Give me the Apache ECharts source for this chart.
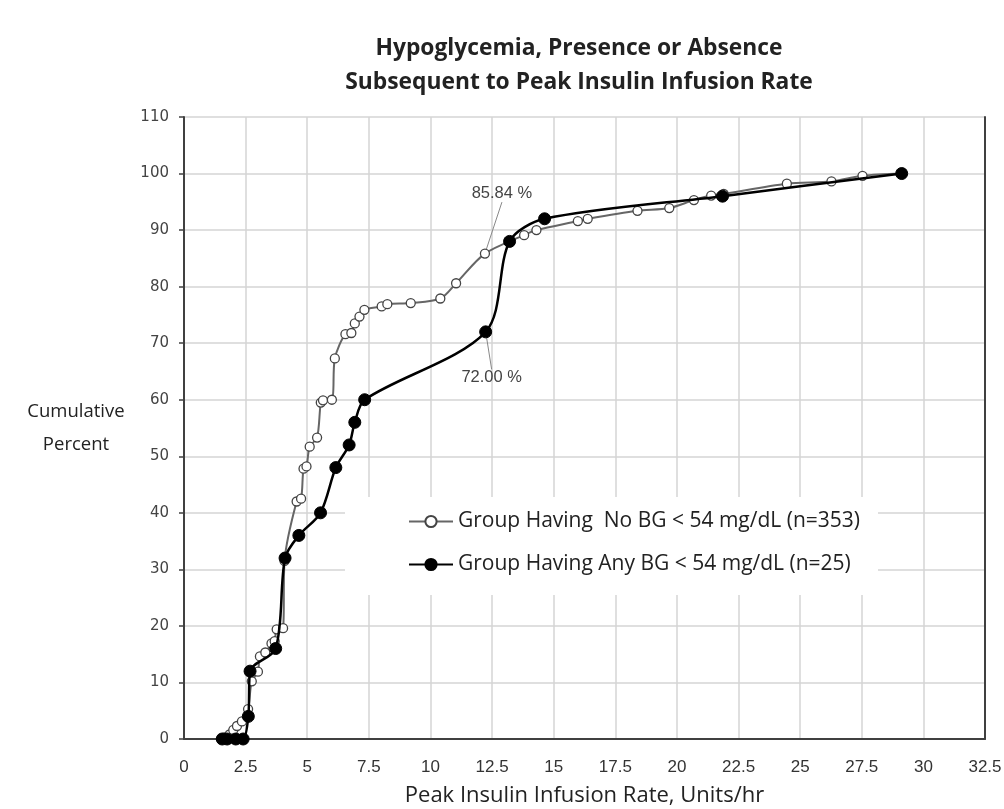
<!DOCTYPE html>
<html>
<head>
<meta charset="utf-8">
<script src="https://cdn.jsdelivr.net/npm/echarts@6/dist/echarts.min.js"></script>
<style>
html,body{margin:0;padding:0;background:#fff;}
#chart{width:1004px;height:809px;}
</style>
</head>
<body>
<div id="chart"></div>
<script>
// ---- data ----
const titleLines = ['Hypoglycemia, Presence or Absence', 'Subsequent to Peak Insulin Infusion Rate'];
const xAxisTitle = 'Peak Insulin Infusion Rate, Units/hr';
const yAxisTitle = 'Cumulative\nPercent';
const seriesNames = ['Group Having  No BG < 54 mg/dL (n=353)', 'Group Having Any BG < 54 mg/dL (n=25)'];

const noBgX = [1.65, 1.85, 2.0, 2.15, 2.35, 2.6, 2.75, 3.0, 3.08, 3.3, 3.55, 3.68, 3.76, 4.02, 4.08, 4.57, 4.75, 4.85, 4.97, 5.1, 5.4, 5.55, 5.64, 6.0, 6.12, 6.55, 6.79, 6.93, 7.12, 7.32, 8.02, 8.25, 9.2, 10.4, 11.04, 12.21, 13.8, 14.3, 15.98, 16.38, 18.4, 19.69, 20.69, 21.39, 21.9, 24.46, 26.27, 27.53, 29.12];
const noBgY = [0.3, 0.8, 1.6, 2.3, 3.1, 5.3, 10.2, 11.9, 14.6, 15.3, 16.9, 17.3, 19.4, 19.6, 31.5, 42.0, 42.5, 47.8, 48.2, 51.7, 53.3, 59.5, 59.9, 60.0, 67.3, 71.6, 71.8, 73.5, 74.7, 75.9, 76.5, 76.9, 77.1, 77.9, 80.6, 85.84, 89.1, 90.0, 91.6, 92.0, 93.4, 93.9, 95.3, 96.1, 96.4, 98.2, 98.6, 99.6, 100];

const anyBgX = [1.55, 1.75, 2.1, 2.4, 2.61, 2.68, 3.72, 4.1, 4.66, 5.54, 6.16, 6.7, 6.93, 7.33, 12.24, 13.21, 14.63, 21.85, 29.12];
const anyBgY = [0, 0, 0, 0, 4, 12, 16, 32, 36, 40, 48, 52, 56, 60, 72, 88, 92, 96, 100];

// annotated points (series index, data index)
const annotated = [[0, 35], [1, 14]];

const xTicks = {min: 0, max: 32.5, interval: 2.5};
const yTicks = {min: 0, max: 110, interval: 10};

// ---- build ----
function buildData(xs, ys, sIdx) {
  return xs.map((x, i) => {
    const item = {value: [x, ys[i]]};
    if (annotated.some(a => a[0] === sIdx && a[1] === i)) {
      item.label = {show: true, formatter: ys[i].toFixed(2) + ' %'};
    }
    return item;
  });
}

const chart = echarts.init(document.getElementById('chart'), null, {renderer: 'canvas'});
const axisDark = '#404040';
const gridGray = '#d4d4d4';
const labelFont = 'Liberation Sans, Arial, sans-serif';
const narrowFont = 'Liberation Sans Narrow, Liberation Sans, Arial, sans-serif';

chart.setOption({
  animation: false,
  backgroundColor: '#fff',
  title: {
    text: titleLines.join('\n'),
    left: 574, top: 27, textAlign: 'center',
    textStyle: {fontFamily: 'Open Sans, sans-serif', fontWeight: 'bold', fontSize: 22.8, lineHeight: 34, color: '#222'}
  },
  grid: {left: 184, top: 117, right: 19, bottom: 70, containLabel: false, outerBoundsMode: 'none'},
  legend: {
    orient: 'vertical',
    left: 345, top: 497,
    backgroundColor: '#fff',
    padding: [14, 18, 20, 63],
    itemGap: 22,
    itemWidth: 44, itemHeight: 14,
    textStyle: {fontFamily: 'Open Sans, sans-serif', fontSize: 21, color: '#222'},
    data: seriesNames
  },
  xAxis: {
    type: 'value', min: xTicks.min, max: xTicks.max, interval: xTicks.interval,
    name: xAxisTitle, nameLocation: 'middle', nameGap: 46,
    nameTextStyle: {fontFamily: 'Open Sans, sans-serif', fontSize: 22, color: '#222'},
    axisLine: {show: true, onZero: false, lineStyle: {color: axisDark, width: 2}},
    axisTick: {show: false},
    axisLabel: {fontFamily: narrowFont, fontSize: 17, color: '#333', margin: 20, showMaxLabel: true, showMinLabel: true},
    splitLine: {show: true, lineStyle: {color: gridGray, width: 1.5}}
  },
  yAxis: [{
    type: 'value', min: yTicks.min, max: yTicks.max, interval: yTicks.interval,
    name: yAxisTitle, nameLocation: 'middle', nameRotate: 0, nameGap: 108,
    nameTextStyle: {fontFamily: 'Open Sans, sans-serif', fontSize: 18.5, color: '#222', align: 'center', lineHeight: 33},
    axisLine: {show: true, onZero: false, lineStyle: {color: axisDark, width: 2}},
    axisTick: {show: true, length: 5, lineStyle: {color: axisDark, width: 1.5}},
    axisLabel: {fontFamily: 'DejaVu Sans, sans-serif', fontSize: 15, color: '#444', margin: 15},
    splitLine: {show: true, lineStyle: {color: gridGray, width: 1.5}}
  }, {
    type: 'value', position: 'right', min: yTicks.min, max: yTicks.max, interval: yTicks.interval,
    axisLine: {show: true, onZero: false, lineStyle: {color: axisDark, width: 2}},
    axisTick: {show: false}, axisLabel: {show: false}, splitLine: {show: false}
  }],
  series: [{
    name: seriesNames[0],
    type: 'line',
    smooth: 0.3,
    data: buildData(noBgX, noBgY, 0),
    symbol: 'circle', symbolSize: 9,
    itemStyle: {color: '#fff', borderColor: '#444', borderWidth: 1.3},
    lineStyle: {color: '#666', width: 2},
    z: 3,
    label: {position: 'inside', fontFamily: labelFont, fontSize: 16.5, color: '#444'},
    labelLine: {show: true, lineStyle: {color: '#888', width: 1}},
    labelLayout: function (p) { return p.dataIndex === annotated[0][1] ? {dx: 17, dy: -60} : {}; }
  }, {
    name: seriesNames[1],
    type: 'line',
    smooth: 0.3,
    data: buildData(anyBgX, anyBgY, 1),
    symbol: 'circle', symbolSize: 12,
    itemStyle: {color: '#000', borderColor: '#000', borderWidth: 1},
    lineStyle: {color: '#000', width: 2.5},
    z: 4,
    label: {position: 'inside', fontFamily: labelFont, fontSize: 16.5, color: '#444'},
    labelLine: {show: true, lineStyle: {color: '#888', width: 1}},
    labelLayout: function (p) { return p.dataIndex === annotated[1][1] ? {dx: 6, dy: 46} : {}; }
  }]
});
</script>
</body>
</html>
